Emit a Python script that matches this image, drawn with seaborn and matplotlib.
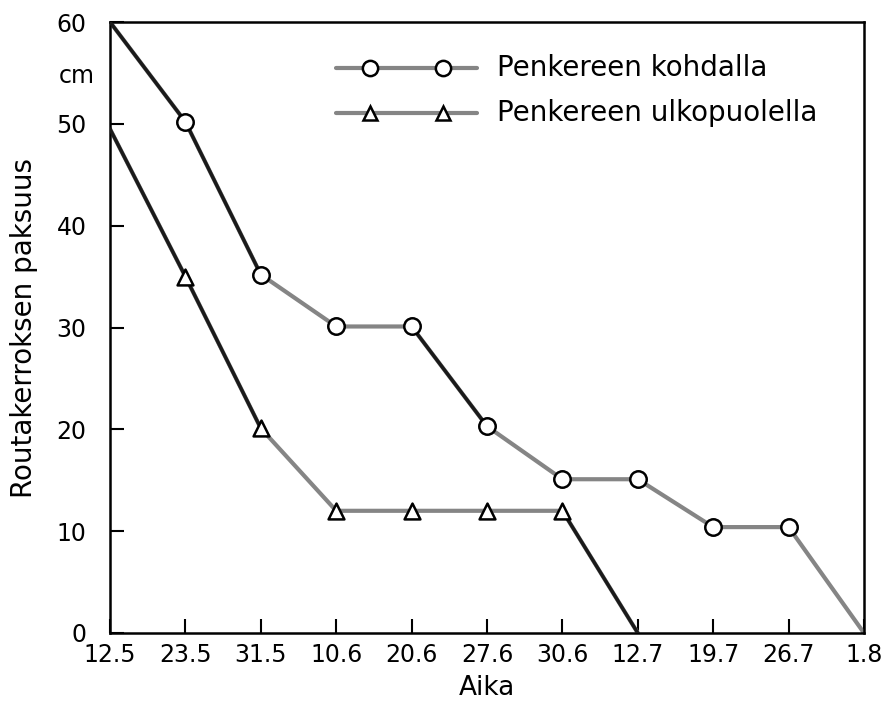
import matplotlib
matplotlib.use("Agg")
import matplotlib.pyplot as plt
import seaborn as sns
import pandas as pd
import numpy as np

# ---- data ----
dates = ["12.5", "23.5", "31.5", "10.6", "20.6", "27.6", "30.6", "12.7", "19.7", "26.7", "1.8"]
kohdalla = [60, 50.2, 35.2, 30.1, 30.1, 20.3, 15.1, 15.1, 10.4, 10.4, 0]
ulkopuolella = [49.5, 35, 20.1, 12, 12, 12, 12, 0]
label_k = "Penkereen kohdalla"
label_u = "Penkereen ulkopuolella"
marker_idx_k = list(range(1, 10))
marker_idx_u = list(range(1, 7))
# segments drawn darker in the original print (start, end index)
dark_k = [(0, 2), (4, 5)]
dark_u = [(0, 2), (6, 7)]

sns.set_theme(style="white")
plt.rcParams["font.family"] = ["DejaVu Sans"]
plt.rcParams["text.color"] = "black"
plt.rcParams["axes.labelcolor"] = "black"

GRAY = "#858585"
DARK = "#1a1a1a"

L, R, T, B = 110, 864, 22, 633
W, H = 884, 701
fig = plt.figure(figsize=(W / 100, H / 100), dpi=100)
ax = fig.add_axes([L / W, 1 - B / H, (R - L) / W, (B - T) / H])

def ax_x(px):
    return (px - L) / (R - L)

def ax_y(py):
    return (B - py) / (B - T)

df_k = pd.DataFrame({"x": np.arange(len(kohdalla)), "y": kohdalla})
df_u = pd.DataFrame({"x": np.arange(len(ulkopuolella)), "y": ulkopuolella})

lw = 3.0
sns.lineplot(data=df_k, x="x", y="y", ax=ax, color=GRAY, lw=lw, zorder=2)
sns.lineplot(data=df_u, x="x", y="y", ax=ax, color=GRAY, lw=lw, zorder=2)
for df, segs in ((df_k, dark_k), (df_u, dark_u)):
    for a, b in segs:
        sub = df.iloc[a:b + 1]
        sns.lineplot(data=sub, x="x", y="y", ax=ax, color=DARK, lw=lw - 0.5, zorder=3)

sns.scatterplot(data=df_k.iloc[marker_idx_k], x="x", y="y", ax=ax, marker="o", s=140,
                facecolor="white", edgecolor="black", linewidth=1.8, zorder=5)
sns.scatterplot(data=df_u.iloc[marker_idx_u], x="x", y="y", ax=ax, marker="^", s=130,
                facecolor="white", edgecolor="black", linewidth=1.8, zorder=5)

ax.set_xlim(0, len(dates) - 1)
ax.set_ylim(0, 60)
ax.set_xticks(np.arange(len(dates)))
ax.set_xticklabels(dates)
ax.set_yticks(np.arange(0, 61, 10))
ax.tick_params(axis="both", direction="in", length=10, width=1.5, labelsize=17,
               colors="black", left=True, bottom=True)
ax.tick_params(axis="y", pad=17)
ax.tick_params(axis="x", pad=7)
for sp in ax.spines.values():
    sp.set_visible(True)
    sp.set_color("black")
    sp.set_linewidth(1.8)
ax.set_xlabel("Aika", fontsize=19, labelpad=6)
ax.set_ylabel("Routakerroksen paksuus", fontsize=20, labelpad=13)
fig.text(77 / W, 1 - 76 / H, "cm", fontsize=17, ha="center", va="center")

# legend drawn manually to match the original sample layout
for py, mk, ms, lab in ((68, "o", 11, label_k), (113, "^", 10.5, label_u)):
    yy = ax_y(py)
    ax.plot([ax_x(336), ax_x(477)], [yy, yy], transform=ax.transAxes, color=GRAY, lw=lw, zorder=4)
    ax.plot([ax_x(370), ax_x(443)], [yy, yy], transform=ax.transAxes, ls="none", marker=mk,
            ms=ms, mfc="white", mec="black", mew=1.8, zorder=5)
    ax.text(ax_x(497), yy, lab, transform=ax.transAxes, fontsize=20, va="center", ha="left")

fig.savefig("out.png", dpi=100)
